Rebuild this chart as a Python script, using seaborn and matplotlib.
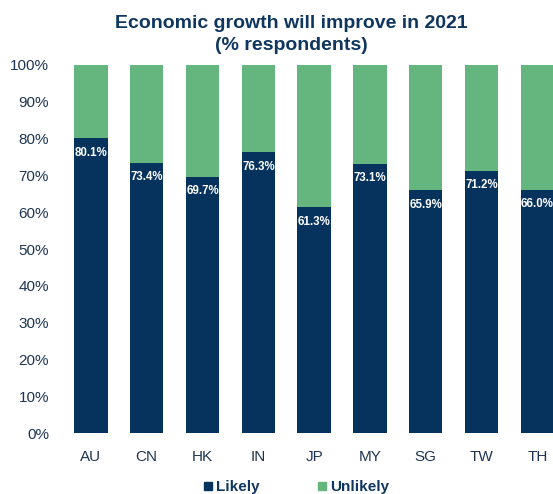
import matplotlib
matplotlib.use("Agg")
import matplotlib.pyplot as plt
import seaborn as sns
import pandas as pd
from matplotlib.lines import Line2D

countries = ["AU", "CN", "HK", "IN", "JP", "MY", "SG", "TW", "TH"]
likely = [80.1, 73.4, 69.7, 76.3, 61.3, 73.1, 65.9, 71.2, 66.0]
unlikely = [19.9, 26.6, 30.3, 23.7, 38.7, 26.9, 34.1, 28.8, 34.0]
yticks = [0, 10, 20, 30, 40, 50, 60, 70, 80, 90, 100]

NAVY = "#06335E"
GREEN = "#65B67E"
TEXT = "#0F365E"
TICK = "#1E3552"

sns.set_theme(style="white")
plt.rcParams["font.family"] = ["Liberation Sans", "DejaVu Sans"]

df = pd.DataFrame({"country": countries, "likely": likely, "unlikely": unlikely})
df["total"] = df["likely"] + df["unlikely"]

fig = plt.figure(figsize=(5.53, 4.94), dpi=100)
ax = fig.add_axes([63 / 553, 1 - 433 / 494, 1 - 63 / 553, (433 - 65) / 494])

sns.barplot(data=df, x="country", y="total", color=GREEN, width=0.6, ax=ax,
            saturation=1, edgecolor="none")
sns.barplot(data=df, x="country", y="likely", color=NAVY, width=0.6, ax=ax,
            saturation=1, edgecolor="none")

for i, v in enumerate(likely):
    ax.text(i, v - 3.9, f"{v:.1f}%", ha="center", va="center", color="white",
            fontsize=8.3, fontweight="bold")

ax.set_xlim(-0.5, 8.28)
ax.set_ylim(0, 100)
ax.set_yticks(yticks)
ax.set_yticklabels([f"{t}%" for t in yticks])
ax.set_xlabel("")
ax.set_ylabel("")
for s in ax.spines.values():
    s.set_visible(False)
ax.tick_params(axis="y", length=0, pad=10, labelsize=11, labelcolor=TICK)
ax.tick_params(axis="x", length=0, pad=12, labelsize=11, labelcolor=TICK)

fig.text(291 / 553, 1 - 23 / 494, "Economic growth will improve in 2021", ha="center",
         va="center", fontsize=14, fontweight="bold", color=TEXT)
fig.text(291 / 553, 1 - 45 / 494, "(% respondents)", ha="center", va="center",
         fontsize=14, fontweight="bold", color=TEXT)

handles = [Line2D([], [], marker="s", linestyle="", markersize=6, color=NAVY),
           Line2D([], [], marker="s", linestyle="", markersize=6, color=GREEN)]
leg = fig.legend(handles, ["Likely", "Unlikely"], loc="center",
                 bbox_to_anchor=(295 / 553, 1 - 487 / 494), ncol=2, frameon=False,
                 handletextpad=0.0, columnspacing=3.6, handlelength=1.0,
                 prop={"weight": "bold", "size": 11})
for t in leg.get_texts():
    t.set_color(TEXT)

fig.savefig("out.png", dpi=100)
